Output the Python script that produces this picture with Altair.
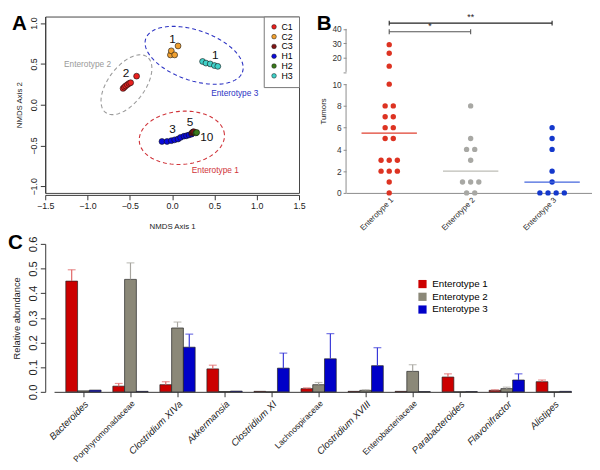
import altair as alt
import numpy as np
import pandas as pd

FONT = "Liberation Sans"

# ---------------- Panel A : NMDS ordination ----------------
a_series = ["C1", "C2", "C3", "H1", "H2", "H3"]
a_colors = ["#E8201E", "#F0A030", "#801515", "#0A0ADC", "#3A7A1A", "#40D0C8"]

c1_x = [-0.58, -0.565, -0.55, -0.53, -0.51, -0.49, -0.42]
c1_y = [0.20, 0.215, 0.23, 0.245, 0.26, 0.27, 0.35]
c2_x = [-0.02, -0.01, 0.03, 0.07]
c2_y = [0.61, 0.66, 0.61, 0.72]
c3_x = [0.235, 0.245, 0.255]
c3_y = [-0.345, -0.335, -0.33]
h1_x = [-0.12, -0.06, -0.01, 0.03, 0.07, 0.10, 0.14, 0.17, 0.20, 0.23]
h1_y = [-0.45, -0.45, -0.44, -0.43, -0.42, -0.40, -0.385, -0.38, -0.37, -0.36]
h2_x = [0.28, 0.29]
h2_y = [-0.345, -0.34]
h3_x = [0.36, 0.40, 0.45, 0.50, 0.54]
h3_y = [0.53, 0.51, 0.50, 0.48, 0.47]

ell_names = ["Enterotype 1", "Enterotype 2", "Enterotype 3"]
ell_colors = ["#D0343A", "#9A9A9A", "#2E34C4"]
ell_cx = [0.115, -0.54, 0.26]
ell_cy = [-0.405, 0.245, 0.605]
ell_a = [0.505, 0.42, 0.607]
ell_b = [0.325, 0.22, 0.306]
ell_angle = [5, 55, -20]
ell_lab_x = [0.51, -1.0, 0.74]
ell_lab_y = [-0.80, 0.50, 0.145]

cnt_text = ["1", "1", "2", "3", "5", "10"]
cnt_x = [0.005, 0.51, -0.545, 0.005, 0.21, 0.41]
cnt_y = [0.81, 0.61, 0.393, -0.30, -0.21, -0.40]

# ---------------- Panel B : tumours ----------------
b_names = ["Enterotype 1", "Enterotype 2", "Enterotype 3"]
b_colors = ["#DD3322", "#A8A8A4", "#1438CC"]
b_median_colors = ["#E04030", "#BDBDB6", "#4466DD"]
e1_tumors = [29, 23, 14, 10, 8, 8, 7, 7, 6, 6, 5, 5, 3, 3, 3, 2, 2, 2, 1, 0]
e2_tumors = [8, 5, 4, 4, 3, 1, 1, 1, 0, 0]
e3_tumors = [6, 5, 4, 2, 1, 0, 0, 0, 0]
b_medians = [5.5, 2, 1]
b_brk_from = [1, 1]
b_brk_to = [3, 2]
b_brk_y = [44.0, 38.0]
b_brk_text = ["**", "*"]
b_brk_colors = ["#222222", "#555555"]
b_yticks = [0, 2, 4, 6, 8, 10, 10.001, 20, 30, 40]

# ---------------- Panel C : relative abundance ----------------
taxa = ["Bacteroides", "Porphyromonadaceae", "Clostridium XIVa", "Akkermansia",
        "Clostridium XI", "Lachnospiraceae", "Clostridium XVIII", "Enterobacteriaceae",
        "Parabacteroides", "Flavonifractor", "Alistipes"]
families = ["Porphyromonadaceae", "Lachnospiraceae", "Enterobacteriaceae"]
c_groups = ["Enterotype 1", "Enterotype 2", "Enterotype 3"]
c_colors = ["#CC0000", "#8B8878", "#0000C8"]
c_err_colors = ["#E06666", "#A8A6A0", "#3838D8"]
ent1_mean = [0.449, 0.023, 0.029, 0.093, 0.002, 0.013, 0.002, 0.002, 0.060, 0.006, 0.041]
ent1_err = [0.495, 0.034, 0.041, 0.108, 0.002, 0.016, 0.002, 0.002, 0.073, 0.008, 0.048]
ent2_mean = [0.004, 0.456, 0.259, 0.001, 0.000, 0.029, 0.006, 0.083, 0.000, 0.013, 0.000]
ent2_err = [0.005, 0.523, 0.283, 0.001, 0.000, 0.038, 0.008, 0.110, 0.000, 0.019, 0.000]
ent3_mean = [0.007, 0.002, 0.181, 0.003, 0.096, 0.134, 0.106, 0.001, 0.001, 0.048, 0.002]
ent3_err = [0.008, 0.002, 0.234, 0.003, 0.157, 0.236, 0.179, 0.001, 0.001, 0.073, 0.002]

# ======================= build panel A =======================
rows = []
k = 0
for s, xs, ys in [("C1", c1_x, c1_y), ("C2", c2_x, c2_y), ("H3", h3_x, h3_y),
                  ("H1", h1_x, h1_y), ("C3", c3_x, c3_y), ("H2", h2_x, h2_y)]:
    for x, y in zip(xs, ys):
        rows.append({"series": s, "x": x, "y": y, "k": k})
        k += 1
a_df = pd.DataFrame(rows)

erows = []
for name, cx, cy, a, b, ang in zip(ell_names, ell_cx, ell_cy, ell_a, ell_b, ell_angle):
    th = np.deg2rad(ang)
    for i, t in enumerate(np.linspace(0, 2 * np.pi, 121)):
        erows.append({"ell": name, "i": i,
                      "x": cx + a * np.cos(t) * np.cos(th) - b * np.sin(t) * np.sin(th),
                      "y": cy + a * np.cos(t) * np.sin(th) + b * np.sin(t) * np.cos(th)})
ell_df = pd.DataFrame(erows)
elab_df = pd.DataFrame({"ell": ell_names, "x": ell_lab_x, "y": ell_lab_y})
cnt_df = pd.DataFrame({"t": cnt_text, "x": cnt_x, "y": cnt_y})

a_xs = alt.Scale(domain=[-1.5, 1.5], nice=False, zero=False)
a_ys = alt.Scale(domain=[-1.08, 1.08], nice=False, zero=False)
ell_scale = alt.Scale(domain=ell_names, range=ell_colors)
a_xaxis = alt.Axis(
    values=[-1.5, -1, -0.5, 0, 0.5, 1, 1.5], format=".1f", title="NMDS Axis 1",
    titleFontSize=8, titleFontWeight="normal", titlePadding=12, labelFontSize=9,
    tickSize=5, offset=2, labelPadding=2, labelFlush=False, domainColor="#333",
    tickColor="#333", labelColor="#222", titleColor="#222")
a_yaxis = alt.Axis(
    values=[-1, -0.5, 0, 0.5, 1], format=".1f", title="NMDS Axis 2",
    labelAngle=270, labelAlign="center", labelBaseline="bottom",
    titleFontSize=8, titleFontWeight="normal", titlePadding=6, labelFontSize=9,
    tickSize=5, labelPadding=2, domainColor="#333", tickColor="#333",
    labelColor="#222", titleColor="#222")
AX_ = alt.X("x:Q", scale=a_xs, axis=a_xaxis)
AY_ = alt.Y("y:Q", scale=a_ys, axis=a_yaxis)

a_ell = alt.Chart(ell_df).mark_line(strokeDash=[4, 3], strokeWidth=1.1).encode(
    x=AX_, y=AY_,
    color=alt.Color("ell:N", scale=ell_scale, legend=None),
    order="i:Q",
)
a_pts = alt.Chart(a_df).mark_circle(size=36, opacity=1, stroke="#111111", strokeWidth=0.6).encode(
    x=AX_, y=AY_,
    fill=alt.Fill("series:N", scale=alt.Scale(domain=a_series, range=a_colors),
                  legend=alt.Legend(orient="top-right", offset=0, padding=6, title=None,
                                    strokeColor="#777777", fillColor="white",
                                    labelFontSize=9, symbolSize=22, symbolType="circle",
                                    symbolStrokeColor="#111111", symbolStrokeWidth=0.5,
                                    rowPadding=0, labelOffset=3)),
    order="k:Q",
)
a_elab = alt.Chart(elab_df).mark_text(fontSize=8.5).encode(
    x=AX_, y=AY_, text="ell:N", color=alt.Color("ell:N", scale=ell_scale, legend=None))
a_cnt = alt.Chart(cnt_df).mark_text(fontSize=12, color="#111111").encode(
    x=AX_, y=AY_, text="t:N")
a_letter = alt.Chart(pd.DataFrame({"t": ["A"]})).mark_text(
    fontSize=21, fontWeight="bold", align="left", baseline="top", color="black").encode(
    x=alt.value(-34), y=alt.value(-3), text="t:N")

panel_a = alt.layer(a_ell, a_pts, a_elab, a_cnt, a_letter).properties(
    width=259, height=180, view=alt.ViewBackground(stroke="#444444", strokeWidth=1))

# ======================= build panel B =======================
def swarm(values, center, step=0.1):
    counts = {}
    for v in values:
        counts[v] = counts.get(v, 0) + 1
    seen = {}
    out = []
    for v in values:
        n = counts[v]
        j = seen.get(v, 0)
        seen[v] = j + 1
        out.append(center + (j - (n - 1) / 2) * step)
    return out

brows = []
for gi, (g, vals) in enumerate(zip(b_names, [e1_tumors, e2_tumors, e3_tumors])):
    for v, p in zip(vals, swarm(vals, gi + 1)):
        brows.append({"group": g, "tumors": v, "pos": p})
b_df = pd.DataFrame(brows)
med_df = pd.DataFrame({"group": b_names, "tumors": b_medians,
                       "pos": [i + 1 - 0.34 for i in range(3)],
                       "pos2": [i + 1 + 0.34 for i in range(3)]})

b_xdom = [0.47, 3.49]
b_xs = alt.Scale(domain=b_xdom, nice=False, zero=False)
b_ys = alt.Scale(domain=[0, 10, 10.001, 40], range=[180, 69, 56.5, 12.6], nice=False, zero=False)
AX = "#8A8A8A"
seg_df = pd.DataFrame({"pos": [b_xdom[0], b_xdom[0]], "tumors": [0, 10.001], "tumors2": [10, 40]})

b_xaxis = alt.Axis(
    values=[1, 2, 3], labelExpr="['Enterotype 1','Enterotype 2','Enterotype 3'][datum.value - 1]",
    labelAngle=315, labelAlign="right", labelBaseline="top", labelFontSize=7.8,
    labelPadding=3, ticks=False, domainColor=AX, labelColor="#222222", title=None,
    labelFlush=False)
b_yaxis = alt.Axis(
    values=b_yticks, labelExpr="datum.value > 10 && datum.value < 11 ? '' : format(datum.value, 'd')",
    domain=False, tickSize=3, tickColor=AX, labelFontSize=8.5, labelColor="#333",
    labelPadding=2, title="Tumors", titleFontSize=8, titleFontWeight="normal",
    titleColor="#222", titlePadding=5)
BX_ = alt.X("pos:Q", scale=b_xs, axis=b_xaxis)
BY_ = alt.Y("tumors:Q", scale=b_ys, axis=b_yaxis)

b_pts = alt.Chart(b_df).mark_circle(size=30, opacity=1).encode(
    x=BX_, y=BY_,
    color=alt.Color("group:N", scale=alt.Scale(domain=b_names, range=b_colors), legend=None),
)
b_seg = alt.Chart(seg_df).mark_rule(color=AX, strokeWidth=1).encode(
    x=BX_, y=BY_, y2="tumors2:Q")
b_med = alt.Chart(med_df).mark_rule(strokeWidth=1.2).encode(
    x=BX_, x2="pos2:Q", y=BY_,
    stroke=alt.Stroke("group:N", scale=alt.Scale(domain=b_names, range=b_median_colors), legend=None))

b_brk_layers = []
for a, b, y, t, c in zip(b_brk_from, b_brk_to, b_brk_y, b_brk_text, b_brk_colors):
    one = pd.DataFrame({"pos": [a], "pos2": [b], "tumors": [y], "t": [t]})
    mid = pd.DataFrame({"pos": [(a + b) / 2], "tumors": [y], "t": [t]})
    caps = pd.DataFrame({"pos": [a, b], "tumors": [y - 1.7, y - 1.7], "tumors2": [y + 1.7, y + 1.7]})
    b_brk_layers.append(alt.Chart(one).mark_rule(strokeWidth=1.1, color=c).encode(
        x=BX_, x2="pos2:Q", y=BY_))
    b_brk_layers.append(alt.Chart(caps).mark_rule(strokeWidth=1.1, color=c).encode(
        x=BX_, y=BY_, y2="tumors2:Q"))
    b_brk_layers.append(alt.Chart(mid).mark_text(fontSize=9, baseline="bottom", dy=-1, color="#222").encode(
        x=BX_, y=BY_, text="t:N"))

b_letter = alt.Chart(pd.DataFrame({"t": ["B"]})).mark_text(
    fontSize=21, fontWeight="bold", align="left", baseline="top", color="black").encode(
    x=alt.value(-30), y=alt.value(-3), text="t:N")

panel_b = alt.layer(b_pts, b_seg, b_med, *b_brk_layers, b_letter).properties(
    width=251, height=180)

# ======================= build panel C =======================
crows = []
for g, means, errs in zip(c_groups, [ent1_mean, ent2_mean, ent3_mean], [ent1_err, ent2_err, ent3_err]):
    for t, m, e in zip(taxa, means, errs):
        crows.append({"taxon": t, "group": g, "mean": m, "err": e})
c_df = pd.DataFrame(crows)
c_err_df = c_df[c_df["err"] > c_df["mean"] + 0.0015].reset_index(drop=True)

c_xs = alt.Scale(domain=taxa, range=[9, 537], paddingInner=0.25, paddingOuter=0.125, align=1)
c_off = alt.Scale(domain=c_groups, paddingInner=0, paddingOuter=0)
c_ys = alt.Scale(domain=[0, 0.6], nice=False, zero=True)
fam_test = "indexof(['" + "','".join(families) + "'], datum.value) >= 0"
c_xaxis = alt.Axis(
    title=None, labelAngle=315, labelAlign="right", labelBaseline="top",
    labelFontSize={"condition": {"test": fam_test, "value": 8.6}, "value": 9.8},
    labelFontStyle={"condition": {"test": fam_test, "value": "normal"}, "value": "italic"},
    labelPadding=2, tickSize=5, tickColor="#333", domainColor="#333", labelColor="#222")
c_yaxis = alt.Axis(
    values=[0, 0.1, 0.2, 0.3, 0.4, 0.5, 0.6], format=".1f", labelAngle=270,
    labelAlign="center", labelBaseline="bottom", labelFontSize=11.5, labelPadding=2,
    tickSize=5, tickColor="#333", domainColor="#333", labelColor="#222",
    title="Relative abundance", titleFontSize=9.5, titleFontWeight="normal",
    titleColor="#222", titlePadding=6)
CX_ = alt.X("taxon:N", scale=c_xs, sort=taxa, axis=c_xaxis)
COFF_ = alt.XOffset("group:N", scale=c_off, sort=c_groups)
err_color = alt.Color("group:N", scale=alt.Scale(domain=c_groups, range=c_err_colors), legend=None)

c_bars = alt.Chart(c_df).mark_bar(stroke="#222222", strokeWidth=0.7).encode(
    x=CX_, xOffset=COFF_,
    y=alt.Y("mean:Q", scale=c_ys, axis=c_yaxis),
    fill=alt.Fill("group:N", scale=alt.Scale(domain=c_groups, range=c_colors),
                  legend=alt.Legend(orient="none", legendX=380, legendY=36, title=None,
                                    symbolType="square", symbolSize=70, symbolStrokeWidth=0,
                                    labelFontSize=10, rowPadding=3, labelOffset=5, padding=0)),
)
c_rule = alt.Chart(c_err_df).mark_rule(strokeWidth=1.2).encode(
    x=CX_, xOffset=COFF_,
    y=alt.Y("mean:Q", scale=c_ys, axis=c_yaxis), y2="err:Q", color=err_color)
c_cap = alt.Chart(c_err_df).mark_tick(thickness=1.2, size=8).encode(
    x=CX_, xOffset=COFF_,
    y=alt.Y("err:Q", scale=c_ys, axis=c_yaxis), color=err_color)
c_letter = alt.Chart(pd.DataFrame({"t": ["C"]})).mark_text(
    fontSize=21, fontWeight="bold", align="left", baseline="top", color="black").encode(
    x=alt.value(-38), y=alt.value(-12), text="t:N")

panel_c = alt.layer(c_bars, c_rule, c_cap, c_letter).properties(width=537, height=151)

top = alt.hconcat(panel_a, panel_b, spacing=11).resolve_scale(
    x="independent", y="independent", color="independent", fill="independent")

chart = alt.vconcat(top, panel_c, spacing=0).resolve_scale(
    x="independent", y="independent", color="independent", fill="independent").properties(
    padding=0).configure(font=FONT).configure_view(stroke=None).configure_axis(
    grid=False, labelFont=FONT, titleFont=FONT).configure_legend(labelFont=FONT)

chart.save("out.html", embed_options={"renderer": "svg", "actions": False})
